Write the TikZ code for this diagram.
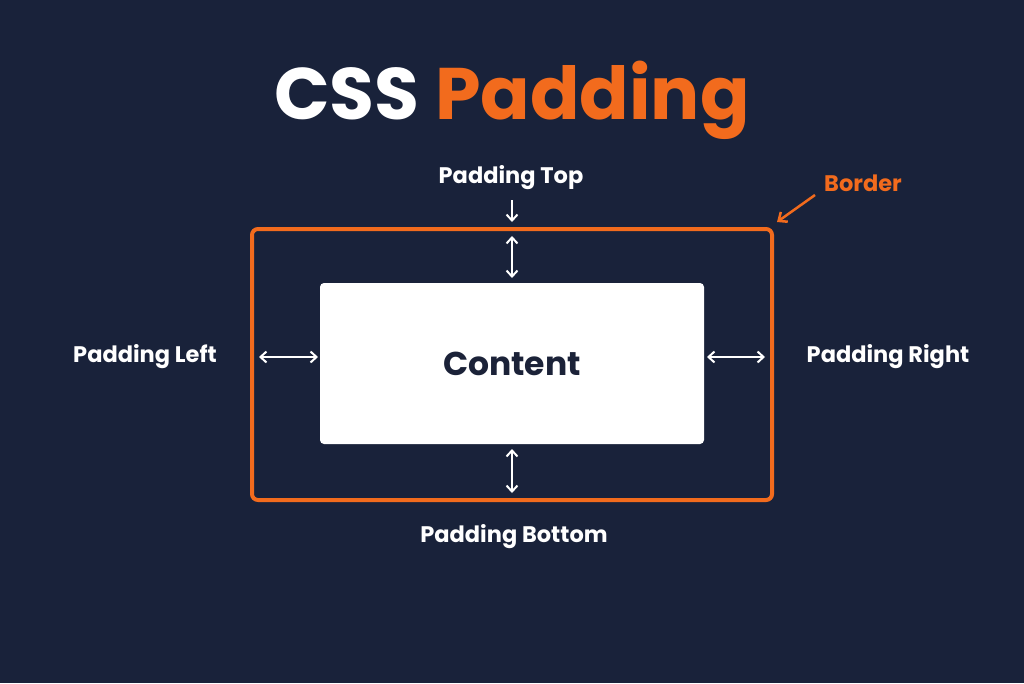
\documentclass[tikz,border=0pt]{standalone}
\usepackage{fontspec}
\setmainfont{Poppins}
\usetikzlibrary{arrows.meta}
\definecolor{bg}{HTML}{19223A}
\definecolor{org}{HTML}{F26B1D}
\definecolor{navy}{HTML}{1B2238}
\begin{document}
\begin{tikzpicture}[x=1pt,y=-1pt,
  lbl/.style={text=white,font=\fontsize{22.5}{26}\selectfont\bfseries},
  dbl/.style={white,line width=2pt,{Straight Barb[length=6pt,width=11pt]}-{Straight Barb[length=6pt,width=11pt]}}]
\fill[bg] (0,0) rectangle (1024,683);
\useasboundingbox (0,0) rectangle (1024,683);
\node (title) at (512,100) {\fontsize{73}{84}\selectfont\bfseries\textcolor{white}{CSS} \textcolor{org}{Padding}};
\node[draw=org,line width=4pt,rounded corners=6pt,minimum width=520pt,minimum height=271pt] (border) at (512,364.5) {};
\node[fill=white,rounded corners=4pt,minimum width=384pt,minimum height=161pt,text=navy,font=\fontsize{33}{38}\selectfont\bfseries] (content) at (512,363.5) {Content};
\node[lbl] (pt) at (511,178) {Padding Top};
\node[lbl] (pl) at (145,357) {Padding Left};
\node[lbl] (pr) at (888,357) {Padding Right};
\node[lbl] (pb) at (514,537) {Padding Bottom};
\node[text=org,font=\fontsize{22.5}{26}\selectfont\bfseries] (bl) at (863,183) {Border};
\coordinate (t1) at (512,200); \coordinate (t2) at (512,222);
\draw[white,line width=2pt,-{Straight Barb[length=6pt,width=11pt]}] (t1) -- (t2);
\coordinate (a1) at (512,236); \coordinate (a2) at (512,278);
\draw[dbl] (a1) -- (a2);
\coordinate (b1) at (512,449); \coordinate (b2) at (512,493);
\draw[dbl] (b1) -- (b2);
\coordinate (l1) at (259,357); \coordinate (l2) at (318,357);
\draw[dbl] (l1) -- (l2);
\coordinate (r1) at (707,357); \coordinate (r2) at (765,357);
\draw[dbl] (r1) -- (r2);
\coordinate (o1) at (815,195); \coordinate (o2) at (777,222);
\draw[org,line width=2.5pt,-{Straight Barb[length=7pt,width=12pt]}] (o1) -- (o2);
\end{tikzpicture}
\end{document}
